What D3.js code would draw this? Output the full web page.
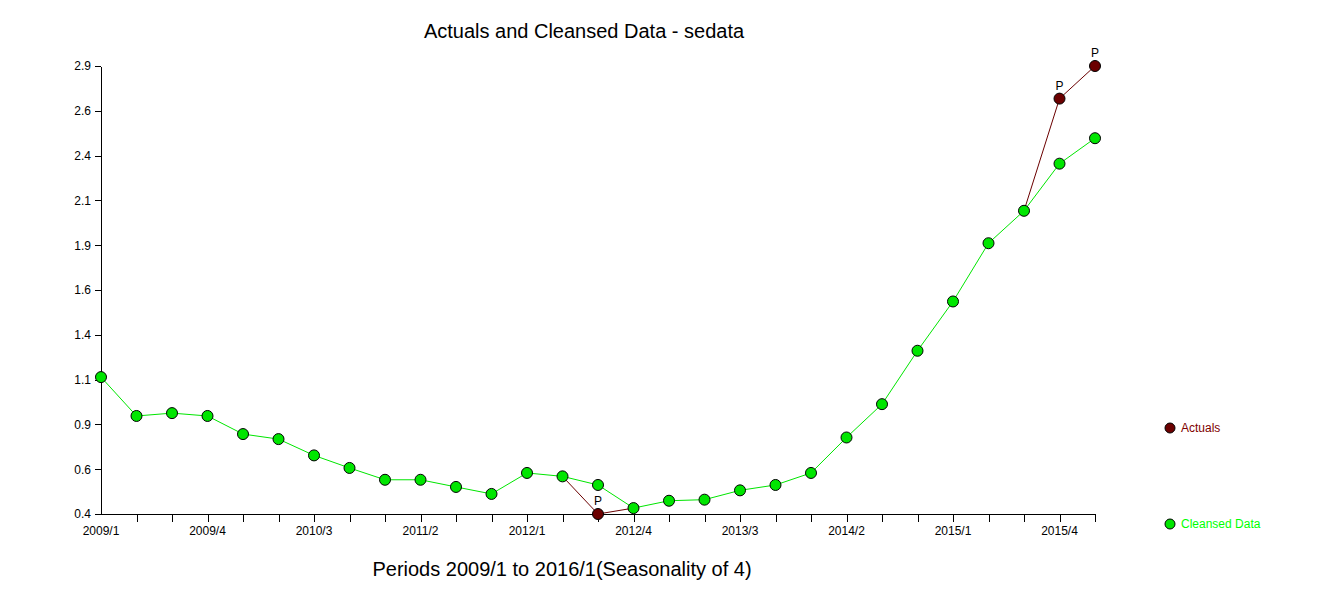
<!DOCTYPE html>
<html>
<head>
<meta charset="utf-8">
<script src="https://cdn.jsdelivr.net/npm/d3@7"></script>
<style>
  body { margin: 0; background: #fff; }
  svg { display: block; font-family: "Liberation Sans", Arial, sans-serif; }
  .axis path, .axis line { stroke: #000; shape-rendering: crispEdges; }
  .axis text { fill: #000; font-size: 12px; }
</style>
</head>
<body>
<svg id="chart" width="1340" height="598"></svg>
<script>
// -------------------------------------------------------------------------- //
//                    ACTUALS AND CLEANSED DATA - sedata                      //
// -------------------------------------------------------------------------- //

var periods = [
  "2009/1", "2009/2", "2009/3", "2009/4",
  "2010/1", "2010/2", "2010/3", "2010/4",
  "2011/1", "2011/2", "2011/3", "2011/4",
  "2012/1", "2012/2", "2012/3", "2012/4",
  "2013/1", "2013/2", "2013/3", "2013/4",
  "2014/1", "2014/2", "2014/3", "2014/4",
  "2015/1", "2015/2", "2015/3", "2015/4",
  "2016/1"
];

var cleansed = [
  1.164, 0.947, 0.963, 0.947,
  0.846, 0.818, 0.727, 0.657,
  0.591, 0.591, 0.551, 0.512,
  0.629, 0.610, 0.562, 0.433,
  0.474, 0.480, 0.532, 0.562,
  0.629, 0.827, 1.013, 1.311,
  1.586, 1.911, 2.092, 2.355,
  2.497
];

var actuals = [
  1.164, 0.947, 0.963, 0.947,
  0.846, 0.818, 0.727, 0.657,
  0.591, 0.591, 0.551, 0.512,
  0.629, 0.610, 0.400, 0.433,
  0.474, 0.480, 0.532, 0.562,
  0.629, 0.827, 1.013, 1.311,
  1.586, 1.911, 2.092, 2.718,
  2.900
];

var yTickValues = [0.4, 0.65, 0.9, 1.15, 1.4, 1.65, 1.9, 2.15, 2.4, 2.65, 2.9];
var yTickLabels = ["0.4", "0.6", "0.9", "1.1", "1.4", "1.6", "1.9", "2.1", "2.4", "2.6", "2.9"];

var xLabelPeriods = ["2009/1", "2009/4", "2010/3", "2011/2", "2012/1",
                     "2012/4", "2013/3", "2014/2", "2015/1", "2015/4"];

var seriesNames = ["Actuals", "Cleansed Data"];

var actualColor   = "#6b0000";
var cleansedColor = "#00e600";
var cleansedText  = "#00ff00";

var svg = d3.select("#chart");

// set the ranges
var x = d3.scalePoint().domain(periods).range([101, 1095]);
var y = d3.scaleLinear().domain([0.4, 2.9]).range([514, 66]);

function isOutlier(i) { return i >= 0 && i < actuals.length && actuals[i] !== cleansed[i]; }

// Add the X Axis
svg.append("g")
  .attr("class", "axis")
  .attr("transform", "translate(0,514)")
  .call(d3.axisBottom(x)
    .tickValues(periods.slice(1))
    .tickSize(8)
    .tickSizeOuter(0)
    .tickFormat(function (d) { return ""; }));

// x labels every 3rd period
svg.append("g")
  .selectAll("text")
  .data(xLabelPeriods)
  .enter().append("text")
    .attr("x", function (d) { return x(d); })
    .attr("y", 535)
    .attr("text-anchor", "middle")
    .attr("font-size", "12px")
    .attr("fill", "#000")
    .text(function (d) { return d; });

// Add the Y Axis
svg.append("g")
  .attr("class", "axis")
  .attr("transform", "translate(101,0)")
  .call(d3.axisLeft(y)
    .tickValues(yTickValues)
    .tickSize(6)
    .tickSizeOuter(0)
    .tickPadding(4)
    .tickFormat(function (d, i) { return yTickLabels[i]; }));

// actual line only shows where it leaves the cleansed one
var actualLine = d3.line()
  .defined(function (d, i) { return isOutlier(i - 1) || isOutlier(i) || isOutlier(i + 1); })
  .x(function (d, i) { return x(periods[i]); })
  .y(function (d) { return y(d); });

var cleansedLine = d3.line()
  .x(function (d, i) { return x(periods[i]); })
  .y(function (d) { return y(d); });

svg.append("path")
  .datum(actuals)
  .attr("fill", "none")
  .attr("stroke", actualColor)
  .attr("stroke-width", 1)
  .attr("d", actualLine);

svg.append("path")
  .datum(cleansed)
  .attr("fill", "none")
  .attr("stroke", cleansedColor)
  .attr("stroke-width", 1)
  .attr("d", cleansedLine);

// points
svg.append("g")
  .selectAll("circle")
  .data(cleansed)
  .enter().append("circle")
    .attr("cx", function (d, i) { return x(periods[i]); })
    .attr("cy", function (d) { return y(d); })
    .attr("r", 5.5)
    .attr("fill", cleansedColor)
    .attr("stroke", "#000")
    .attr("stroke-width", 1);

// outliers get a "P"
var outliers = actuals
  .map(function (d, i) { return { i: i, v: d }; })
  .filter(function (d) { return isOutlier(d.i); });

svg.append("g")
  .selectAll("circle")
  .data(outliers)
  .enter().append("circle")
    .attr("cx", function (d) { return x(periods[d.i]); })
    .attr("cy", function (d) { return y(d.v); })
    .attr("r", 5.5)
    .attr("fill", actualColor)
    .attr("stroke", "#000")
    .attr("stroke-width", 1);

svg.append("g")
  .selectAll("text")
  .data(outliers)
  .enter().append("text")
    .attr("x", function (d) { return x(periods[d.i]); })
    .attr("y", function (d) { return y(d.v) - 9; })
    .attr("text-anchor", "middle")
    .attr("font-size", "12px")
    .attr("fill", "#000")
    .text("P");

// title
svg.append("text")
  .attr("x", 584)
  .attr("y", 38)
  .attr("text-anchor", "middle")
  .attr("font-size", "20px")
  .attr("fill", "#000")
  .text("Actuals and Cleansed Data - sedata");

svg.append("text")
  .attr("x", 562)
  .attr("y", 576)
  .attr("text-anchor", "middle")
  .attr("font-size", "20px")
  .attr("fill", "#000")
  .text("Periods 2009/1 to 2016/1(Seasonality of 4)");

// legend
var legend = svg.append("g")
  .selectAll("g")
  .data(seriesNames)
  .enter().append("g")
    .attr("transform", function (d, i) { return "translate(1170," + (428 + i * 96) + ")"; });

legend.append("circle")
  .attr("r", 5)
  .attr("fill", function (d, i) { return i === 0 ? actualColor : cleansedColor; })
  .attr("stroke", "#000")
  .attr("stroke-width", 1);

legend.append("text")
  .attr("x", 11)
  .attr("y", 4)
  .attr("font-size", "12px")
  .attr("fill", function (d, i) { return i === 0 ? "#800000" : cleansedText; })
  .text(function (d) { return d; });
</script>
</body>
</html>
